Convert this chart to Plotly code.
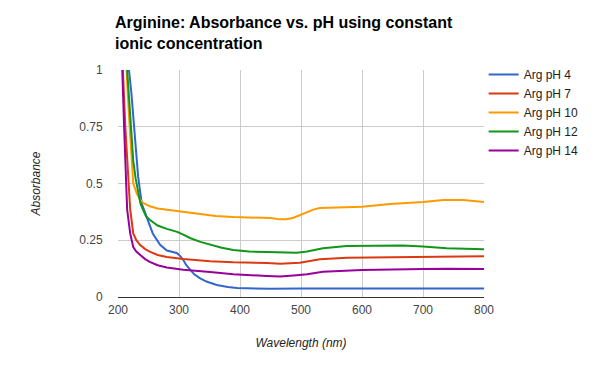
import plotly.graph_objects as go

names = ["Arg pH 4", "Arg pH 7", "Arg pH 10", "Arg pH 12", "Arg pH 14"]
colors = ["#3366cc", "#dc3912", "#ff9900", "#109618", "#990099"]

wl_ph4 = [212, 218, 222, 228, 233, 239, 247, 257, 269, 280, 290, 297, 302, 307, 312, 318, 325, 334, 345, 362, 380, 395, 450, 500, 600, 700, 800]
abs_ph4 = [1.6, 1.0, 0.897, 0.68, 0.53, 0.41, 0.354, 0.28, 0.23, 0.205, 0.198, 0.193, 0.18, 0.163, 0.14, 0.12, 0.10, 0.083, 0.068, 0.053, 0.044, 0.04, 0.036, 0.037, 0.038, 0.038, 0.037]

wl_ph7 = [204, 208, 212, 215, 218, 220, 225, 230, 236, 244, 252, 265, 280, 307, 351, 389, 444, 466, 498, 531, 575, 630, 700, 800]
abs_ph7 = [1.6, 1.0, 0.75, 0.6, 0.45, 0.385, 0.28, 0.25, 0.23, 0.212, 0.2, 0.185, 0.176, 0.167, 0.158, 0.153, 0.15, 0.146, 0.151, 0.166, 0.173, 0.175, 0.176, 0.179]

wl_ph10 = [210, 214, 218, 222, 225, 231, 236, 241, 252, 265, 280, 297, 315, 334, 360, 389, 428, 450, 466, 475, 487, 498, 510, 520, 531, 564, 600, 646, 700, 733, 766, 800]
abs_ph10 = [1.6, 1.0, 0.8, 0.6, 0.5, 0.455, 0.43, 0.415, 0.40, 0.39, 0.385, 0.378, 0.37, 0.364, 0.357, 0.352, 0.351, 0.348, 0.342, 0.343, 0.348, 0.36, 0.375, 0.385, 0.392, 0.396, 0.398, 0.41, 0.418, 0.427, 0.427, 0.418]

wl_ph12 = [210, 215, 220, 225, 229, 233, 237, 241, 246, 252, 265, 280, 297, 307, 318, 335, 351, 370, 389, 415, 444, 470, 493, 510, 536, 575, 630, 667, 700, 739, 800]
abs_ph12 = [1.6, 1.0, 0.8, 0.6, 0.52, 0.46, 0.41, 0.385, 0.355, 0.34, 0.315, 0.30, 0.287, 0.275, 0.26, 0.243, 0.23, 0.217, 0.207, 0.2, 0.198, 0.195, 0.195, 0.2, 0.215, 0.225, 0.228, 0.227, 0.222, 0.215, 0.21]

wl_ph14 = [203, 207, 210, 213, 215, 220, 225, 230, 236, 244, 252, 265, 280, 307, 351, 389, 444, 466, 493, 510, 536, 600, 700, 739, 800]
abs_ph14 = [1.6, 1.0, 0.75, 0.5, 0.385, 0.28, 0.22, 0.2, 0.185, 0.168, 0.155, 0.14, 0.13, 0.12, 0.11, 0.1, 0.093, 0.09, 0.096, 0.1, 0.111, 0.119, 0.123, 0.125, 0.123]

xs = [wl_ph4, wl_ph7, wl_ph10, wl_ph12, wl_ph14]
ys = [abs_ph4, abs_ph7, abs_ph10, abs_ph12, abs_ph14]

x_ticks = [200, 300, 400, 500, 600, 700, 800]
y_ticks = [0, 0.25, 0.5, 0.75, 1]
y_tick_labels = ["0", "0.25", "0.5", "0.75", "1"]

FONT = "Arial, Liberation Sans, sans-serif"
W, H = 588, 358  # page body has an 8px margin

fig = go.Figure()
for n, c, x, y in zip(names, colors, xs, ys):
    fig.add_trace(go.Scatter(x=x, y=y, name=n, mode="lines",
                             line=dict(color=c, width=2)))

fig.update_layout(
    width=W, height=H,
    margin=dict(l=110, r=112, t=62, b=69),
    paper_bgcolor="white", plot_bgcolor="white",
    font=dict(family=FONT, size=12, color="#222222"),
    title=dict(text="<b>Arginine: Absorbance vs. pH using constant<br>ionic concentration</b>",
               x=107/W, xanchor="left", xref="container",
               y=1 - 20/H, yanchor="top", yref="container",
               font=dict(family=FONT, size=16, color="#000000")),
    legend=dict(x=0.999, xanchor="left", y=1.044, yanchor="top",
                font=dict(family=FONT, size=12, color="#222222"),
                bgcolor="rgba(0,0,0,0)"),
    showlegend=True,
)
fig.update_xaxes(range=[200, 800], tickvals=x_ticks,
                 showgrid=True, gridcolor="#cccccc", gridwidth=1,
                 zeroline=False, showline=True, linecolor="#333333", linewidth=1,
                 ticks="outside", ticklen=2, tickcolor="rgba(0,0,0,0)",
                 tickfont=dict(size=12, color="#444444"),
                 title=dict(text="<i>Wavelength (nm)</i>", font=dict(size=12, color="#222222"), standoff=22))
fig.update_yaxes(range=[0, 1], tickvals=y_ticks, ticktext=y_tick_labels,
                 showgrid=True, gridcolor="#cccccc", gridwidth=1,
                 zeroline=False, showline=False,
                 ticks="outside", ticklen=12, tickcolor="rgba(0,0,0,0)",
                 tickfont=dict(size=12, color="#444444"),
                 title=dict(text="<i>Absorbance</i>", font=dict(size=12, color="#222222"), standoff=36))

fig.write_html("out.html")
